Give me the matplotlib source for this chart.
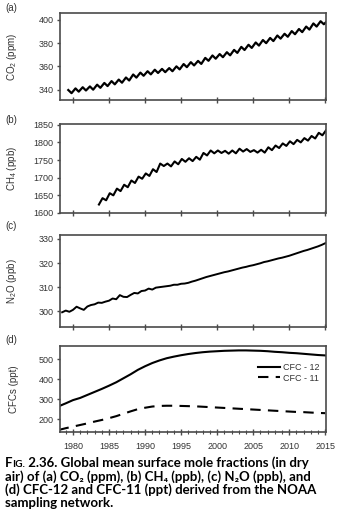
import numpy as np
import matplotlib
matplotlib.use('Agg')
import matplotlib.pyplot as plt

plt.rcParams['font.family'] = ['Liberation Sans', 'DejaVu Sans']
plt.rcParams['mathtext.default'] = 'regular'

# ---- data ----
# CO2: seasonal high (~spring) and low (~autumn) for each year
co2_years = list(range(1979, 2016))
co2_high = [339.6, 341.0, 342.0, 342.7, 344.2, 345.7, 347.3, 348.6, 350.4, 353.0,
            354.6, 355.8, 357.1, 357.8, 358.5, 360.0, 362.0, 363.6, 364.7, 367.3,
            369.4, 370.6, 372.2, 374.2, 376.8, 378.6, 380.6, 382.7, 384.5, 386.6,
            388.1, 390.4, 392.2, 394.3, 397.0, 398.9, 399.6]
co2_low = [336.9, 338.2, 339.2, 339.9, 341.5, 343.0, 344.5, 345.9, 347.8, 350.3,
           351.9, 353.1, 354.3, 355.0, 355.8, 357.4, 359.3, 360.8, 362.1, 364.8,
           366.6, 367.9, 369.5, 371.6, 374.1, 375.9, 377.9, 380.0, 381.8, 383.9,
           385.5, 387.7, 389.5, 391.7, 394.3, 396.3, 397.0]

# CH4: summer low and following winter high
ch4_years = list(range(1983, 2015))
ch4_low = [1624, 1636, 1650, 1662, 1673, 1685, 1697, 1705, 1716, 1733, 1732,
           1738, 1745, 1747, 1751, 1763, 1769, 1770, 1768, 1769, 1774, 1773,
           1771, 1771, 1778, 1784, 1790, 1795, 1800, 1805, 1811, 1820]
ch4_high = [1642, 1656, 1669, 1680, 1692, 1703, 1712, 1724, 1740, 1740, 1746,
            1753, 1755, 1759, 1770, 1777, 1777, 1776, 1777, 1782, 1781, 1778,
            1779, 1786, 1791, 1797, 1803, 1807, 1812, 1818, 1827, 1834]

# N2O: half-yearly values 1978.5 - 2015.0
n2o_time = np.arange(1978.5, 2015.01, 0.5)
n2o = [299.6, 300.3, 299.8, 300.6, 301.9, 301.2, 300.6, 302.0, 302.6, 302.9,
       303.6, 303.5, 304.0, 304.4, 305.3, 305.0, 306.7, 306.0, 305.9, 306.8,
       307.6, 307.4, 308.4, 308.6, 309.4, 309.0, 309.8, 310.0, 310.2, 310.4,
       310.6, 311.0, 311.0, 311.4, 311.5, 311.8, 312.3, 312.7, 313.2, 313.7,
       314.2, 314.6, 315.0, 315.4, 315.8, 316.2, 316.5, 316.9, 317.3, 317.7,
       318.1, 318.4, 318.8, 319.1, 319.5, 319.9, 320.4, 320.7, 321.1, 321.5,
       321.9, 322.2, 322.6, 323.0, 323.5, 324.0, 324.5, 325.0, 325.4, 325.9,
       326.4, 326.9, 327.5, 328.2]

# CFCs, yearly
cfc_years = list(range(1978, 2016))
cfc12 = [265, 280, 296, 307, 322, 337, 352, 368, 385, 405, 425, 447, 465, 481,
         494, 505, 513, 520, 526, 531, 535, 538, 540, 542, 543, 544, 544, 543,
         542, 540, 537, 535, 532, 530, 527, 524, 521, 519]
cfc11 = [147, 156, 164, 172, 180, 189, 197, 206, 216, 228, 240, 251, 258, 264,
         267, 268, 268, 267, 266, 265, 263, 261, 259, 257, 255, 253, 251, 249,
         247, 245, 243, 241, 239, 237, 236, 234, 232, 231]

# interleave the seasonal extremes into one time series
co2_t, co2_v = [], []
for y, hi, lo in zip(co2_years, co2_high, co2_low):
    co2_t += [y + 0.35, y + 0.8]
    co2_v += [hi, lo]
ch4_t, ch4_v = [], []
for y, lo, hi in zip(ch4_years, ch4_low, ch4_high):
    ch4_t += [y + 0.6, y + 1.1]
    ch4_v += [lo, hi]

# ---- figure ----
W, H = 338, 521
fig = plt.figure(figsize=(W / 100, H / 100), dpi=100)

def px_axes(top, bottom, left=60, right=326):
    return fig.add_axes([left / W, 1 - bottom / H, (right - left) / W, (bottom - top) / H])

spine_col = '#4a4a4a'
text_col = '#333333'
XLIM = (1978.2, 2015.1)

def style(ax, ylabel, yticks, ylim, labels=False):
    ax.set_xlim(*XLIM)
    ax.set_ylim(*ylim)
    ax.set_yticks(yticks)
    ax.set_xticks(range(1980, 2016, 5))
    for s in ax.spines.values():
        s.set_color(spine_col)
        s.set_linewidth(1.2)
    ax.tick_params(axis='y', direction='out', length=2.5, width=1, colors=spine_col,
                   labelcolor=text_col, labelsize=6.5, pad=2)
    ax.tick_params(axis='x', direction='inout', length=5, width=1, colors=spine_col,
                   labelcolor=text_col, labelsize=6.5, pad=5, labelbottom=labels)
    ax.set_ylabel(ylabel, fontsize=7, color=text_col)
    ax.yaxis.set_label_coords(-0.155, 0.5)

ax1 = px_axes(13, 100)
ax1.plot(co2_t, co2_v, color='black', lw=1.6, solid_joinstyle='round')
style(ax1, 'CO$_2$ (ppm)', [340, 360, 380, 400], (331, 406))

ax2 = px_axes(124, 213)
ax2.plot(ch4_t, ch4_v, color='black', lw=1.5, solid_joinstyle='round')
style(ax2, 'CH$_4$ (ppb)', [1600, 1650, 1700, 1750, 1800, 1850], (1600, 1852))

ax3 = px_axes(235, 327)
ax3.plot(n2o_time, n2o, color='black', lw=1.4)
style(ax3, 'N$_2$O (ppb)', [300, 310, 320, 330], (293.5, 331.6))

ax4 = px_axes(346, 432)
ax4.plot(cfc_years, cfc12, color='black', lw=1.5, label='CFC - 12')
ax4.plot(cfc_years, cfc11, color='black', lw=1.5, dashes=(5, 3.5), label='CFC - 11')
style(ax4, 'CFCs (ppt)', [200, 300, 400, 500], (137, 566), labels=True)
ax4.set_xticks(range(1979, 2016), minor=True)
ax4.tick_params(axis='x', which='minor', direction='inout', length=3, width=0.8,
                colors=spine_col)
ax4.legend(loc='upper left', bbox_to_anchor=(0.744, 0.80), frameon=False,
           fontsize=6.5, handlelength=2.4, handletextpad=0.4, labelspacing=0.15,
           borderpad=0, borderaxespad=0, labelcolor=text_col)

for lab, y in [('(a)', 8), ('(b)', 120), ('(c)', 226), ('(d)', 340)]:
    fig.text(5 / W, 1 - y / H, lab, fontsize=7, color=text_col, va='center')

# ---- caption ----
cap_font = ['Lato', 'DejaVu Sans']
cap_size = 9.5
cap_kw = dict(fontsize=cap_size, fontweight='bold', family=cap_font)
cap_lines = [
    ' 2.36. Global mean surface mole fractions (in dry',
    'air) of (a) CO\u2082 (ppm), (b) CH\u2084 (ppb), (c) N\u2082O (ppb), and',
    '(d) CFC-12 and CFC-11 (ppt) derived from the NOAA',
    'sampling network.',
]
cap_y = [467, 481, 494, 507]
# "Fig." in small caps
t0 = fig.text(5 / W, 1 - cap_y[0] / H, 'F', va='baseline', **cap_kw)
t1 = plt.annotate('IG.', xy=(1, 0), xycoords=t0, va='bottom', annotation_clip=False,
                  fontsize=cap_size * 0.78, fontweight='bold', family=cap_font)
plt.annotate(cap_lines[0], xy=(1, 0), xycoords=t1, va='bottom',
             annotation_clip=False, **cap_kw)
for line, y in zip(cap_lines[1:], cap_y[1:]):
    fig.text(5 / W, 1 - y / H, line, va='baseline', **cap_kw)

fig.savefig('out.png', dpi=100)
